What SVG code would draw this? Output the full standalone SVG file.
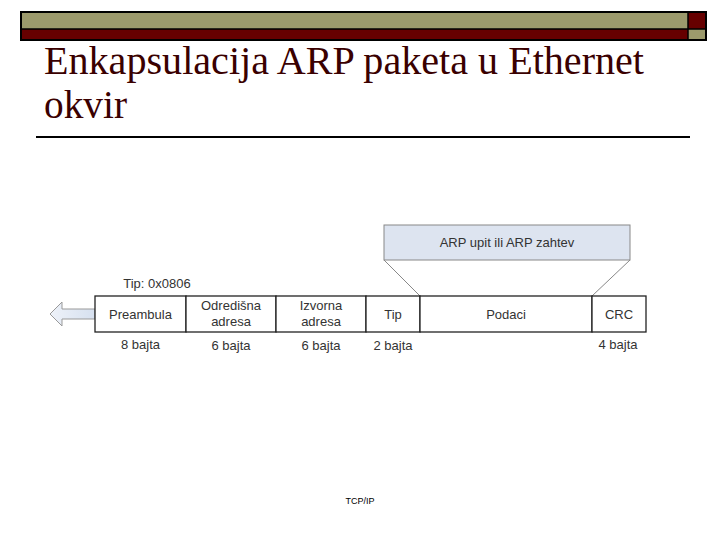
<svg xmlns="http://www.w3.org/2000/svg" width="720" height="540" viewBox="0 0 720 540">
<defs>
<style>
.title{font-family:"Liberation Serif","Times New Roman",serif;font-size:39px;fill:#3a0000;}
.lbl{font-family:"Liberation Sans",Arial,sans-serif;font-size:13px;fill:#333;text-anchor:middle;}
.box{fill:#fff;stroke:#222;stroke-width:1.3;}
.conn{stroke:#888;stroke-width:1;fill:none;}
</style>
<linearGradient id="ag" x1="0" y1="0" x2="1" y2="0">
<stop offset="0" stop-color="#eef2f9"/>
<stop offset="1" stop-color="#d6e0ef"/>
</linearGradient>
</defs>
<rect width="720" height="540" fill="#fff"/>
<g id="header">
<rect x="21" y="12" width="667" height="17" fill="#9c9a6c"/>
<rect x="21" y="29" width="667" height="11" fill="#660000"/>
<rect x="688" y="12" width="18" height="17" fill="#660000"/>
<rect x="688" y="29" width="18" height="11" fill="#9c9a6c"/>
<rect x="21" y="12" width="685" height="28" fill="none" stroke="#000" stroke-width="2"/>
<line x1="21" y1="29" x2="706" y2="29" stroke="#000" stroke-width="1.5"/>
<line x1="688" y1="12" x2="688" y2="40" stroke="#000" stroke-width="1.5"/>
</g>
<g id="title">
<text class="title" x="44" y="74" textLength="600" lengthAdjust="spacingAndGlyphs">Enkapsulacija ARP paketa u Ethernet</text>
<text class="title" x="44" y="118" textLength="83" lengthAdjust="spacingAndGlyphs">okvir</text>
<line x1="36" y1="137" x2="690" y2="137" stroke="#000" stroke-width="2"/>
</g>
<g id="connectors">
<line class="conn" x1="384" y1="260" x2="420" y2="296"/>
<line class="conn" x1="630" y1="260" x2="592" y2="296"/>
</g>
<g id="arrow">
<path d="M50,314 L62,302 L62,309 L95,309 L95,319 L62,319 L62,326 Z" fill="url(#ag)" stroke="#999" stroke-width="1"/>
</g>
<g id="arp">
<rect x="384" y="225" width="246" height="35" fill="#dde4f0" stroke="#888" stroke-width="1"/>
<text class="lbl" x="507" y="247">ARP upit ili ARP zahtev</text>
</g>
<g id="tiplabel">
<text class="lbl" x="157" y="288">Tip: 0x0806</text>
</g>
<g id="preambula">
<rect class="box" x="95" y="296" width="91" height="36"/>
<text class="lbl" x="140.5" y="319">Preambula</text>
<text class="lbl" x="140.5" y="349">8 bajta</text>
</g>
<g id="odredisna">
<rect class="box" x="186" y="296" width="90" height="36"/>
<text class="lbl" x="231" y="310">Odredišna</text>
<text class="lbl" x="231" y="326">adresa</text>
<text class="lbl" x="231" y="350">6 bajta</text>
</g>
<g id="izvorna">
<rect class="box" x="276" y="296" width="90" height="36"/>
<text class="lbl" x="321" y="310">Izvorna</text>
<text class="lbl" x="321" y="326">adresa</text>
<text class="lbl" x="321" y="350">6 bajta</text>
</g>
<g id="tip">
<rect class="box" x="366" y="296" width="54" height="36"/>
<text class="lbl" x="393" y="319">Tip</text>
<text class="lbl" x="393" y="350">2 bajta</text>
</g>
<g id="podaci">
<rect class="box" x="420" y="296" width="172" height="36"/>
<text class="lbl" x="506" y="319">Podaci</text>
</g>
<g id="crc">
<rect class="box" x="592" y="296" width="54" height="36"/>
<text class="lbl" x="619" y="319">CRC</text>
<text class="lbl" x="618" y="349">4 bajta</text>
</g>
<g id="footer">
<text x="360" y="504" font-family="Liberation Sans,Arial,sans-serif" font-size="9" fill="#000" text-anchor="middle">TCP/IP</text>
</g>
</svg>
